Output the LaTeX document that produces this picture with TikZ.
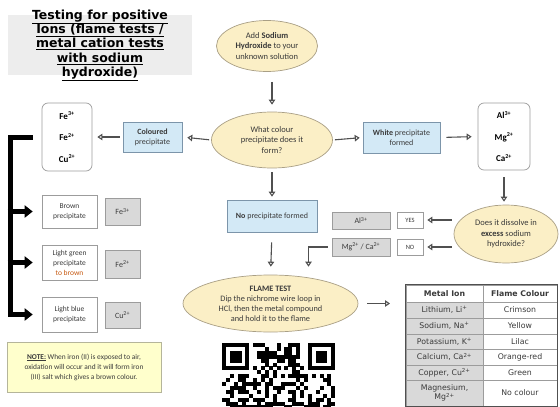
\documentclass[tikz,border=0pt]{standalone}
\usepackage{fontspec}
\setmainfont{Carlito}
\newfontfamily\headfont{DejaVu Sans}
\usetikzlibrary{shapes.geometric,arrows.meta}
\definecolor{ellfill}{HTML}{FBEFC6}
\definecolor{ellline}{HTML}{A99F85}
\definecolor{bluefill}{HTML}{D3E9F6}
\definecolor{blueline}{HTML}{7C95AA}
\definecolor{greyfill}{HTML}{D9D9D9}
\definecolor{greyline}{HTML}{9C9C9C}
\definecolor{notefill}{HTML}{FFFFCC}
\definecolor{noteline}{HTML}{B5B59A}
\definecolor{titlefill}{HTML}{EDEDED}
\definecolor{txt}{HTML}{3A3A3A}
\definecolor{arrgray}{HTML}{505050}
\definecolor{browntxt}{HTML}{C65911}
\tikzset{
	ell/.style={ellipse, draw=ellline, fill=ellfill, line width=0.7pt, inner sep=0pt, align=center, text=txt, font=\fontsize{8.5}{10.5}\selectfont},
	bluebox/.style={draw=blueline, fill=bluefill, line width=0.6pt, inner sep=0pt, align=center, text=txt, font=\fontsize{8}{10}\selectfont},
	whitebox/.style={draw=greyline, fill=white, line width=0.6pt, inner sep=0pt, align=center, text=txt, font=\fontsize{7.5}{10.5}\selectfont},
	greybox/.style={draw=greyline, fill=greyfill, line width=0.6pt, inner sep=0pt, align=center, text=txt, font=\fontsize{8}{10}\selectfont},
	ionbox/.style={draw=greyline, fill=white, rounded corners=6pt, line width=0.7pt, inner sep=0pt, align=center, text=black, font=\bfseries\fontsize{9}{21.5}\selectfont},
	cell/.style={draw=greyline, line width=0.5pt, inner sep=0pt, align=center, text=txt, font=\headfont\fontsize{7.8}{9.5}\selectfont},
	arr/.style={draw=arrgray, line width=1.1pt, -{Triangle[open,length=5pt,width=6.5pt]}},
	blk/.style={draw=black, line width=5pt, line join=miter, -{Triangle[length=8pt,width=12pt]}}
}
\begin{document}
\begin{tikzpicture}[x=1pt,y=-1pt]
	\useasboundingbox (0,0) rectangle (560,407);
	\fill[titlefill] (8,15) rectangle (192,75);
	\node[align=center, font=\headfont\bfseries\fontsize{12.5}{14.3}\selectfont, text=black] (title) at (100,45.5) {\underline{Testing for positive}\\\underline{Ions (flame tests /}\\\underline{metal cation tests}\\\underline{with sodium}\\\underline{hydroxide)}};

	\node[ell, minimum width=101, minimum height=51] (add) at (267,46) {Add \textbf{Sodium}\\\textbf{Hydroxide} to your\\unknown solution};
	\node[ell, minimum width=121, minimum height=56] (what) at (272,140) {What colour\\precipitate does it\\form?};
	\node[bluebox, minimum width=59, minimum height=30] (col) at (152.5,137) {\textbf{Coloured}\\precipitate};
	\node[ionbox, minimum width=50, minimum height=68] (fe) at (67,137) {Fe\textsuperscript{3+}\\Fe\textsuperscript{2+}\\Cu\textsuperscript{2+}};
	\node[bluebox, minimum width=77, minimum height=31] (white) at (401.5,137.5) {\textbf{White} precipitate\\formed};
	\node[ionbox, minimum width=52, minimum height=67] (al) at (504,136.5) {Al\textsuperscript{3+}\\Mg\textsuperscript{2+}\\Ca\textsuperscript{2+}};
	\node[ell, minimum width=104, minimum height=58] (diss) at (506,234) {Does it dissolve in\\\textbf{excess} sodium\\hydroxide?};
	\node[whitebox, minimum width=26, minimum height=16, font=\fontsize{6.5}{8}\selectfont] (yes) at (410,220) {YES};
	\node[whitebox, minimum width=26, minimum height=16, font=\fontsize{6.5}{8}\selectfont] (no) at (410,247) {NO};
	\node[greybox, minimum width=58, minimum height=17] (algrey) at (361,220.5) {Al\textsuperscript{3+}};
	\node[greybox, minimum width=58, minimum height=18] (mgca) at (361,247) {Mg\textsuperscript{2+} / Ca\textsuperscript{2+}};
	\node[bluebox, minimum width=90, minimum height=32] (noprec) at (272,216) {\textbf{No} precipitate formed};
	\node[ell, minimum width=175, minimum height=57, font=\fontsize{8.3}{10}\selectfont] (flame) at (270.5,303.5) {\textbf{FLAME TEST}\\Dip the nichrome wire loop in\\HCl, then the metal compound\\and hold it to the flame};

	\node[whitebox, minimum width=55, minimum height=33] (brown) at (69.5,211.5) {Brown\\precipitate};
	\node[greybox, minimum width=35, minimum height=27] (fe3) at (122.5,211.5) {Fe\textsuperscript{3+}};
	\node[whitebox, minimum width=55, minimum height=35, font=\fontsize{7.5}{10}\selectfont] (lgreen) at (69.5,262.5) {Light green\\precipitate\\{\color{browntxt}to brown}};
	\node[greybox, minimum width=35, minimum height=28] (fe2) at (122.5,264) {Fe\textsuperscript{2+}};
	\node[whitebox, minimum width=55, minimum height=35] (lblue) at (69.5,314.5) {Light blue\\precipitate};
	\node[greybox, minimum width=35, minimum height=26] (cu) at (122.5,315) {Cu\textsuperscript{2+}};
	\node[draw=noteline, fill=notefill, line width=0.7pt, minimum width=154, minimum height=50, inner sep=0pt, align=center, text=txt, font=\fontsize{7.4}{10}\selectfont] (note) at (84,367) {\textbf{\underline{NOTE:}} When iron (II) is exposed to air,\\oxidation will occur and it will form iron\\(III) salt which gives a brown colour.};

	\draw[arr, shorten >=7pt] (add.south -| what.north) ++(0,10) -- (what.north);
	\draw[arr, shorten <=2pt, shorten >=5pt] (what.west) -- (col.east);
	\draw[arr, shorten <=3pt, shorten >=5pt] (col.west) -- (fe.east);
	\draw[arr, shorten <=2pt, shorten >=3pt] (what.east) -- (white.west);
	\draw[arr, shorten <=6pt, shorten >=6pt] (white.east) -- (al.west);
	\draw[arr, shorten <=7pt, shorten >=3pt] (al.south) -- (al.south |- diss.north);
	\draw[arr, shorten <=2pt, shorten >=4pt] (yes.east -| diss.west) -- (yes.east);
	\draw[arr, shorten <=2pt, shorten >=4pt] (no.east -| diss.west) -- (no.east);
	\draw[arr, shorten <=4pt, shorten >=3pt] (what.south) -- (noprec.north);
	\draw[arr, shorten <=10pt, shorten >=8pt] (noprec.south) -- (flame.north);
	\draw[arr, shorten <=4pt, shorten >=8pt] (mgca.west) -| ([xshift=38pt]flame.north);

	\coordinate (spine) at (10,0);
	\draw[blk, shorten <=9pt, shorten >=9pt] (fe.west) -- (fe.west -| spine) -- (lblue.west -| spine) -- (lblue.west);
	\foreach \b in {brown,lgreen}{
		\draw[blk, shorten >=9pt] ([xshift=-2.5pt]\b.west -| spine) -- (\b.west);
	}

	\node[cell, fill=white, minimum width=77, minimum height=17, font=\headfont\bfseries\fontsize{7.8}{9.5}\selectfont] (hion) at (444.5,293.5) {Metal Ion};
	\node[cell, fill=white, minimum width=74, minimum height=17, font=\headfont\bfseries\fontsize{7.8}{9.5}\selectfont] (hflm) at (520,293.5) {Flame Colour};
	\foreach \i/\ion/\flm/\ya/\yb in {1/{Lithium, Li\textsuperscript{+}}/Crimson/302/318, 2/{Sodium, Na\textsuperscript{+}}/Yellow/318/334, 3/{Potassium, K\textsuperscript{+}}/Lilac/334/349, 4/{Calcium, Ca\textsuperscript{2+}}/Orange-red/349/365, 5/{Copper, Cu\textsuperscript{2+}}/Green/365/380, 6/{Magnesium,\\Mg\textsuperscript{2+}}/No colour/380/406}{
		\pgfmathsetmacro{\ym}{(\ya+\yb)/2}
		\pgfmathsetmacro{\h}{\yb-\ya}
		\node[cell, fill=greyfill, minimum width=77, minimum height=\h] (ion\i) at (444.5,\ym) {\ion};
		\node[cell, fill=white, minimum width=74, minimum height=\h] (flm\i) at (520,\ym) {\flm};
	}
	\draw[draw=arrgray, line width=0.8pt] (hion.north west) rectangle (flm6.south east);
	\coordinate (tabin) at (390,303.5);
	\draw[arr, shorten <=9pt] (flame.east) -- (tabin);

	\pgfmathsetseed{11}
	\foreach \r in {0,...,16}{
		\foreach \c in {0,...,28}{
			\pgfmathtruncatemacro{\fin}{and(\r<8,or(\c<8,\c>20))}
			\ifnum\fin=0
				\ifnum\r=6 \pgfmathtruncatemacro{\q}{1-mod(\c,2)}\else\ifnum\c=6 \pgfmathtruncatemacro{\q}{1-mod(\r,2)}\else\pgfmathrandominteger{\q}{0}{1}\fi\fi
				\ifnum\q=1 \fill ({222+\c*3.9},{343+\r*3.9}) rectangle ++(4,4); \fi
			\fi
		}
	}
	\foreach \qx in {222,307.8}{
		\fill (\qx,343) rectangle ++(27.3,27.3);
		\fill[white] ({\qx+3.9},346.9) rectangle ++(19.5,19.5);
		\fill ({\qx+7.8},350.8) rectangle ++(11.7,11.7);
	}
\end{tikzpicture}
\end{document}
